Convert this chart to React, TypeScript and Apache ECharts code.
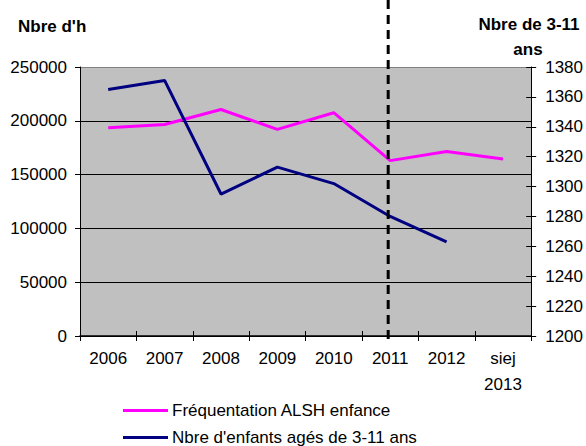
import React, { useEffect, useRef } from 'react';
import * as echarts from 'echarts';

const categories = ['2006', '2007', '2008', '2009', '2010', '2011', '2012', 'siej\n2013'];
const frequentation = [193500, 196500, 210500, 192000, 207500, 163000, 171500, 164500];
const enfants = [1365, 1371, 1295, 1313, 1302, 1280, 1263, null];
const seriesNames = ['Fréquentation ALSH enfance', "Nbre d'enfants agés de 3-11 ans"];
const leftTitle = "Nbre d'h";
const rightTitle = ['Nbre de 3-11', 'ans'];
const markedYear = '2011';

export default function App() {
  const ref = useRef<HTMLDivElement>(null);
  useEffect(() => {
    const chart = echarts.init(ref.current!, null, { renderer: 'svg' });
    const font = '"Liberation Sans", Arial, sans-serif';
    const txt = { fontFamily: font, fontSize: 17, color: '#000' };
    const raw = (v: number) => String(v);
    chart.setOption({
      animation: false,
      textStyle: { fontFamily: font },
      grid: { left: 80, right: 54, top: 67, bottom: 110, show: true, backgroundColor: '#C0C0C0', borderWidth: 0 },
      legend: {
        orient: 'vertical', left: 123, top: 402, padding: 0, itemGap: 10, icon: 'rect', itemWidth: 45, itemHeight: 3,
        textStyle: { ...txt, lineHeight: 17, padding: [0, 0, 0, -1] },
        data: seriesNames,
      },
      xAxis: [
        {
          type: 'category', data: categories, boundaryGap: true, position: 'bottom',
          axisLine: { show: true, lineStyle: { color: '#000', width: 1.5 } },
          axisTick: { show: true, length: 5, lineStyle: { color: '#000' } },
          axisLabel: { ...txt, margin: 9, lineHeight: 26, interval: 0 },
        },
        {
          type: 'category', data: categories, boundaryGap: true, position: 'bottom',
          axisLine: { show: false },
          axisTick: { show: true, inside: true, length: 5, lineStyle: { color: '#000' } },
          axisLabel: { show: false },
        },
      ],
      yAxis: [
        {
          type: 'value', min: 0, max: 250000, interval: 50000, position: 'left',
          axisLine: { show: true, lineStyle: { color: '#000' } },
          axisTick: { show: true, length: 5, lineStyle: { color: '#000' } },
          axisLabel: { ...txt, margin: 13, formatter: raw },
          splitLine: { show: true, lineStyle: { color: ['#000', '#000', '#000', '#000', '#000', '#808080'], width: 1 } },
        },
        {
          type: 'value', min: 1200, max: 1380, interval: 20, position: 'right',
          axisLine: { show: true, lineStyle: { color: '#000' } },
          axisTick: { show: true, length: 5, lineStyle: { color: '#000' } },
          axisLabel: { ...txt, margin: 14, formatter: raw },
          splitLine: { show: false },
        },
        {
          type: 'value', min: 1200, max: 1380, interval: 20, position: 'right',
          axisLine: { show: false },
          axisTick: { show: true, inside: true, length: 5, lineStyle: { color: '#000' } },
          axisLabel: { show: false },
          splitLine: { show: false },
        },
      ],
      series: [
        {
          name: seriesNames[0], type: 'line', data: frequentation, xAxisIndex: 0, yAxisIndex: 0,
          showSymbol: false, symbol: 'none', color: '#FF00FF', lineStyle: { color: '#FF00FF', width: 3 },
        },
        {
          name: seriesNames[1], type: 'line', data: enfants, xAxisIndex: 0, yAxisIndex: 1,
          showSymbol: false, symbol: 'none', color: '#000080', lineStyle: { color: '#000080', width: 3 },
        },
      ],
    });
    const xPix = chart.convertToPixel({ xAxisIndex: 0 }, markedYear) as number;
    const bold = { fontFamily: font, fontSize: 17, fontWeight: 'bold', fill: '#000' };
    chart.setOption({
      graphic: [
        { type: 'text', left: 18, top: 18, style: { ...bold, text: leftTitle } },
        { type: 'text', x: 529, y: 24, style: { ...bold, text: rightTitle[0], align: 'center', verticalAlign: 'middle' } },
        { type: 'text', x: 528, y: 49, style: { ...bold, text: rightTitle[1], align: 'center', verticalAlign: 'middle' } },
        {
          type: 'line', z: 100,
          shape: { x1: xPix - 2, y1: 0, x2: xPix - 2, y2: 345 },
          style: { stroke: '#000', lineWidth: 3, lineDash: [9, 6] },
        },
      ],
    });
    return () => chart.dispose();
  }, []);
  return <div ref={ref} style={{ position: 'absolute', left: 0, top: 0, width: 586, height: 446 }} />;
}
